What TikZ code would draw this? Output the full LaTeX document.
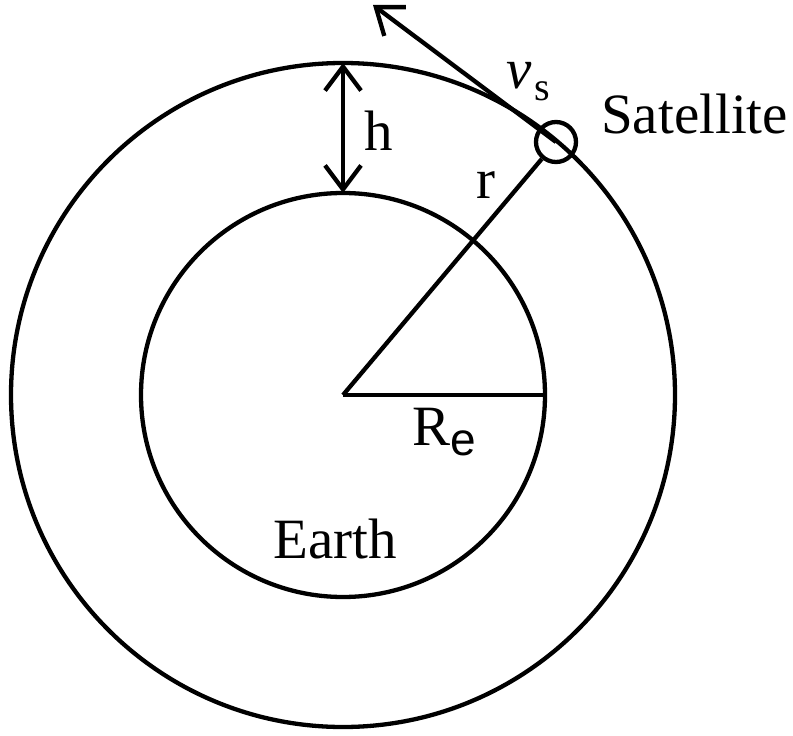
\documentclass[tikz,border=0pt]{standalone}
\usepackage{fontspec}
\setmainfont{Liberation Serif}
\newfontfamily\lsans{Liberation Sans}
\usetikzlibrary{arrows.meta}
\tikzset{
  ln/.style={line width=4.3pt, draw=black},
  barb/.style={-{Straight Barb[length=24pt,width=36pt,line width=4.3pt]}},
  lbl/.style={inner sep=0pt, anchor=base west, font=\fontsize{57}{60}\selectfont}
}
\begin{document}
\begin{tikzpicture}[x=1pt,y=-1pt]
\useasboundingbox (0,0) rectangle (793,736);
\coordinate (O) at (343,395);
\coordinate (Rend) at (545,395);
\coordinate (htop) at (343,63);
\coordinate (hbot) at (343,193);
\coordinate (vtip) at (373,5);
\draw[ln] (O) circle (202);
\draw[ln] (O) circle (332);
\node[ln, circle, minimum size=40pt, inner sep=0pt] (sat) at (556,142) {};
\draw[ln] (O) -- (Rend);
\draw[ln] (O) -- (sat);
\draw[ln, barb] (sat.center) -- (vtip);
\draw[ln, {Straight Barb[length=24pt,width=36pt,line width=4.3pt]}-{Straight Barb[length=24pt,width=36pt,line width=4.3pt]}] (hbot) -- (htop);
\node[lbl] (h) at (364,150) {h};
\node[lbl] (r) at (476,198) {r};
\node[lbl] (satl) at (601,133) {Satellite};
\node[lbl] (earth) at (273,558) {Earth};
\node[lbl] (R) at (412,445) {R};
\node[inner sep=0pt, anchor=base west, font=\lsans\fontsize{46}{50}\selectfont] (e) at (450,455) {e};
\node[lbl] (v) at (506,88) {\itshape v};
\node[inner sep=0pt, anchor=base west, font=\fontsize{40}{44}\selectfont] (s) at (534,100) {s};
\end{tikzpicture}
\end{document}
